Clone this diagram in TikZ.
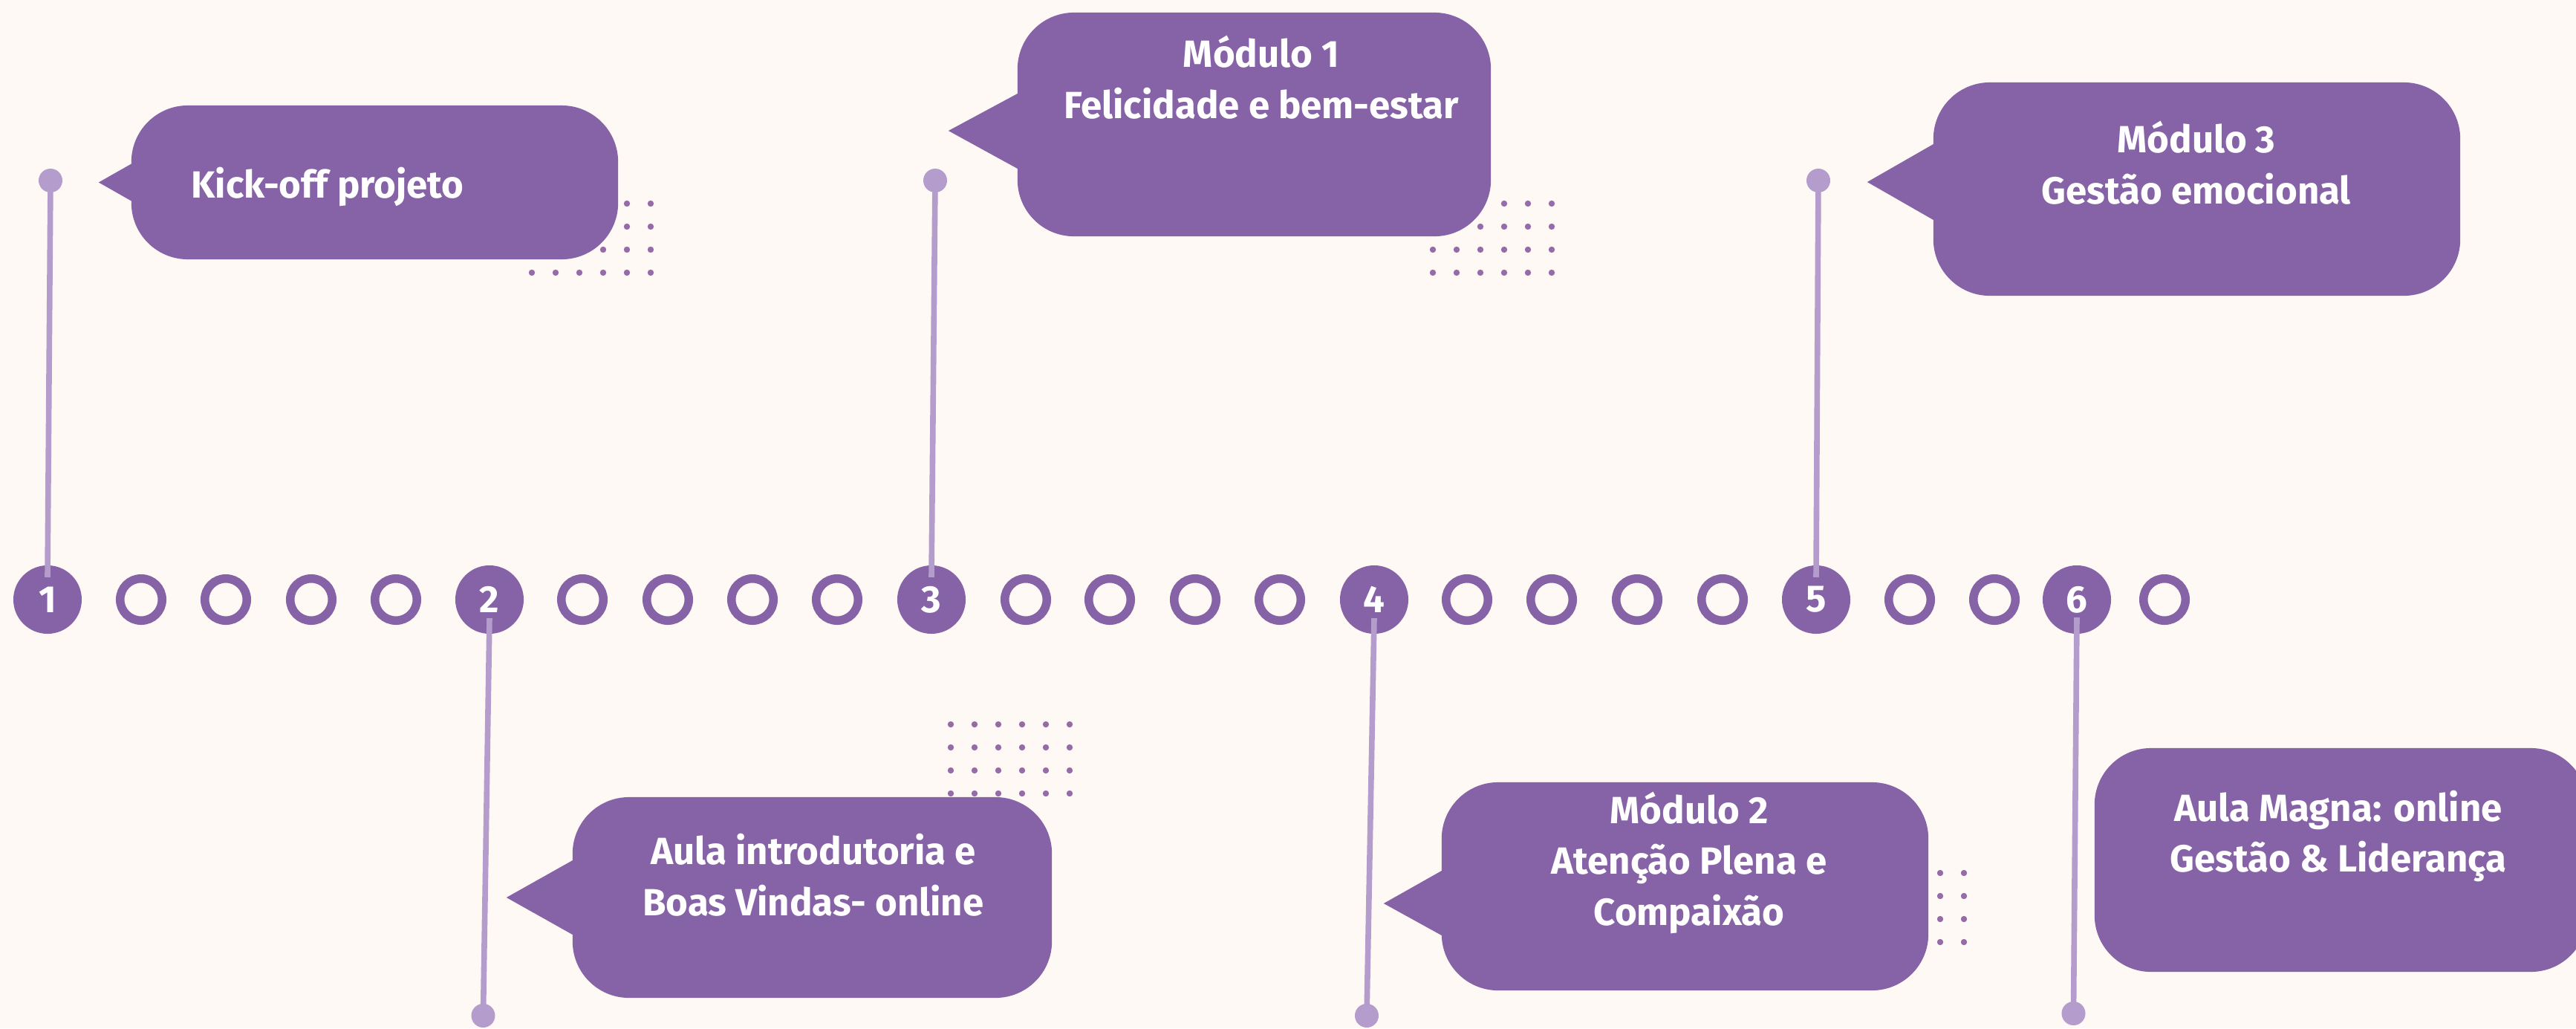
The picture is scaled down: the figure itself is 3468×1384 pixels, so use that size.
\documentclass[tikz,border=0pt]{standalone}
\usepackage{fontspec}
\setmainfont{Fira Sans}
\definecolor{tlpurple}{RGB}{134,99,166}
\definecolor{tllilac}{RGB}{180,157,204}
\definecolor{tldots}{RGB}{150,108,168}
\definecolor{tlbg}{RGB}{255,249,246}
\usetikzlibrary{positioning}

\begin{document}
\begin{tikzpicture}[x=0.01cm, y=-0.01cm,
  event/.style={fill=tlpurple, rounded corners=0.76cm, inner sep=0pt, outer sep=0pt},
  evtext/.style={text=white, align=center, inner sep=0pt, font=\fontsize{14.5}{19.5}\selectfont\bfseries},
  bigstop/.style={circle, fill=tlpurple, minimum size=0.92cm, inner sep=0pt, text=white, font=\fontsize{14.5}{17}\selectfont\bfseries},
  stop/.style={circle, draw=tlpurple, line width=0.115cm, minimum size=0.565cm, inner sep=0pt},
  pinhead/.style={circle, fill=tllilac, minimum size=0.32cm, inner sep=0pt},
  pin/.style={draw=tllilac, line width=0.076cm},
  gdot/.style={circle, fill=tldots, minimum size=0.084cm, inner sep=0pt}
]
  \useasboundingbox (0,0) rectangle (3468,1384);
  \fill[tlbg] (0,0) rectangle (3468,1384);
  \clip (0,0) rectangle (3468,1384);

  %% Dot grids behind the boxes
  \foreach \gx/\gy/\gn in {716/274/a, 1929/274/b, 1280/975/c, 2484/1175/d}
    \foreach \i in {0,...,5}
      \foreach \j in {0,...,3}
        \node[gdot] (\gn-\i-\j) at (\gx+32*\i, \gy+31*\j) {};

  %% Event boxes
  \node[event, minimum width=6.55cm, minimum height=2.07cm] (b1) at (504.5,245.5) {};
  \node[event, minimum width=6.45cm, minimum height=2.70cm] (b2) at (1093.5,1208) {};
  \node[event, minimum width=6.37cm, minimum height=3.01cm] (b3) at (1688.5,167.5) {};
  \node[event, minimum width=6.55cm, minimum height=2.80cm] (b4) at (2268.5,1193) {};
  \node[event, minimum width=7.09cm, minimum height=2.87cm] (b5) at (2957.5,254.5) {};
  \node[event, minimum width=6.63cm, minimum height=3.01cm] (b6) at (3151.5,1157.5) {};

  %% Tails
  \fill[tlpurple] ([shift={(0,-25)}]b1.west) -- ++(-44,25) -- ++(44,25) -- cycle;
  \fill[tlpurple] ([shift={(0,-50)}]b2.west) -- ++(-89,50) -- ++(89,50) -- cycle;
  \fill[tlpurple] ([shift={(0,-41.5)}]b3.west) -- ++(-93,50) -- ++(93,51) -- cycle;
  \fill[tlpurple] ([shift={(0,-21)}]b4.west) -- ++(-78,44) -- ++(78,43) -- cycle;
  \fill[tlpurple] ([shift={(0,-60.5)}]b5.west) -- ++(-89,51) -- ++(89,51) -- cycle;

  %% Box texts
  \node[evtext, anchor=base west] (k1) at (257,266) {Kick-off projeto};
  \node[evtext] (k2) at (1095,1177.5) {Aula introdutoria e\\Boas Vindas- online};
  \node[evtext] (k3) at (1698,104) {Módulo 1\\Felicidade e bem-estar};
  \node[evtext] (k4) at (2274,1161) {Módulo 2\\Atenção Plena e\\Compaixão};
  \node[evtext] (k5) at (2957,219) {Módulo 3\\Gestão emocional};
  \node[evtext] (k6) at (3148,1125.5) {Aula Magna: online\\Gestão \& Liderança};

  %% Timeline
  \node[bigstop] (t1) at (64,807) {1};
  \node[bigstop] (t2) at (659,807) {2};
  \node[bigstop] (t3) at (1254,807) {3};
  \node[bigstop] (t4) at (1850,807) {4};
  \node[bigstop] (t5) at (2445,807) {5};
  \node[bigstop] (t6) at (2796,807) {6};
  \foreach \x [count=\i] in {190,304,419,533, 784,899,1013,1127, 1381,1494,1609,1723,
                              1975,2089,2204,2319, 2571,2685, 2914}
    \node[stop] (s\i) at (\x,807) {};

  %% Pins
  \node[pinhead] (p1) at (68,243) {};
  \node[pinhead] (p2) at (650.5,1367) {};
  \node[pinhead] (p3) at (1259,243) {};
  \node[pinhead] (p4) at (1840,1367) {};
  \node[pinhead] (p5) at (2448,243) {};
  \node[pinhead] (p6) at (2791.5,1364) {};
  \draw[pin] (p1.center) -- ([yshift=3mm]t1.center);
  \draw[pin] ([yshift=-2.5mm]t2.center) -- (p2.center);
  \draw[pin] (p3.center) -- ([yshift=3mm]t3.center);
  \draw[pin] ([yshift=-2.5mm]t4.center) -- (p4.center);
  \draw[pin] (p5.center) -- ([yshift=3mm]t5.center);
  \draw[pin] ([yshift=-2.4mm]t6.center) -- (p6.center);
\end{tikzpicture}
\end{document}
